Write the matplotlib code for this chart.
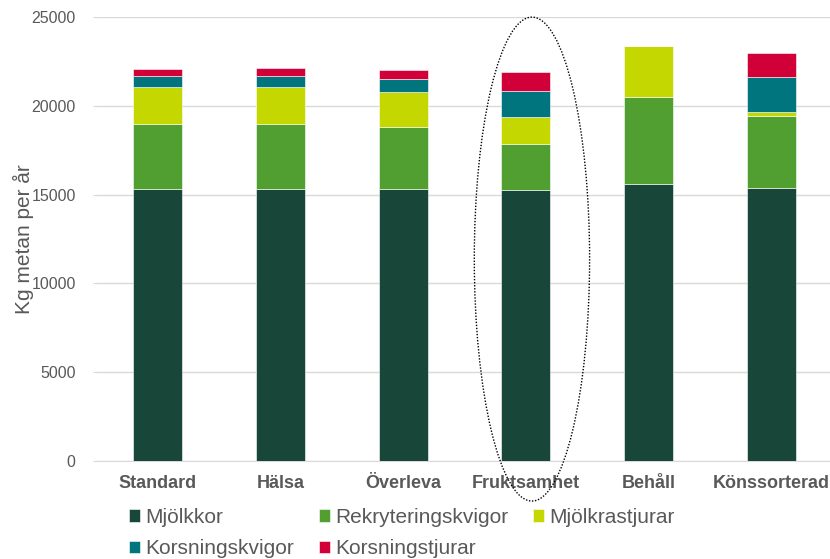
import numpy as np
import matplotlib
matplotlib.use("Agg")
import matplotlib.pyplot as plt
from matplotlib.patches import Ellipse

# Metan per scenario, uppdelat per djurkategori (kg per år)
SCENARIOS = ["Standard", "Hälsa", "Överleva", "Fruktsamhet", "Behåll", "Könssorterad"]
MJOLKKOR = [15315, 15333, 15333, 15276, 15614, 15354]
REKRYTERINGSKVIGOR = [3677, 3659, 3456, 2590, 4899, 4055]
MJOLKRASTJURAR = [2083, 2083, 1971, 1486, 2854, 259]
KORSNINGSKVIGOR = [620, 620, 732, 1481, 0, 1937]
KORSNINGSTJURAR = [395, 415, 523, 1053, 0, 1368]

SERIES = [
    ("Mjölkkor", MJOLKKOR, "#18473A"),
    ("Rekryteringskvigor", REKRYTERINGSKVIGOR, "#519E31"),
    ("Mjölkrastjurar", MJOLKRASTJURAR, "#C5D700"),
    ("Korsningskvigor", KORSNINGSKVIGOR, "#00757E"),
    ("Korsningstjurar", KORSNINGSTJURAR, "#D10038"),
]

HIGHLIGHT = "Fruktsamhet"

TEXT_GREY = "#595959"
GRID_GREY = "#D9D9D9"

plt.rcParams["font.family"] = ["Liberation Sans", "DejaVu Sans"]

fig = plt.figure(figsize=(8.3, 5.59), dpi=100)
ax = fig.add_axes([0.1163, 0.1753, 0.8837, 0.7943])

x = np.arange(len(SCENARIOS))
bottom = np.zeros(len(SCENARIOS))
handles = []
for name, values, color in SERIES:
    vals = np.array(values, dtype=float)
    bars = ax.bar(x, vals, width=0.4, bottom=bottom, color=color,
                  edgecolor="white", linewidth=0.4, label=name, zorder=3)
    handles.append(bars)
    bottom += vals

ax.set_xlim(-0.5, 5.48)
ax.set_ylim(0, 25000)
ax.set_yticks(np.arange(0, 25001, 5000))
ax.set_xticks(x)
ax.set_xticklabels(SCENARIOS, fontsize=13, fontweight="bold", color=TEXT_GREY)
ax.tick_params(axis="x", length=0, pad=10)
ax.tick_params(axis="y", length=3, color=GRID_GREY, labelcolor=TEXT_GREY,
               labelsize=11.5, pad=12)
ax.grid(True, axis="y", color=GRID_GREY, linewidth=1, zorder=0)
for side in ["top", "right", "left"]:
    ax.spines[side].set_visible(False)
ax.spines["bottom"].set_color(GRID_GREY)
ax.set_ylabel("Kg metan per år", fontsize=15, color=TEXT_GREY, labelpad=-2)

# Markering runt fruktsamhetsscenariot
hi = SCENARIOS.index(HIGHLIGHT)
ell = Ellipse((hi + 0.05, 11370), width=0.94, height=27250, fill=False,
              edgecolor="black", linewidth=1.0, linestyle=(0, (1, 1.2)),
              clip_on=False, zorder=5)
ax.add_patch(ell)

# Legenden fylls kolumnvis, så ordna om för att få radvis läsning
order = [0, 3, 1, 4, 2]
fig.legend(handles=[handles[i] for i in order],
           labels=[SERIES[i][0] for i in order], ncol=3,
           loc="upper left", bbox_to_anchor=(129 / 830, 1 - 508 / 559),
           frameon=False, fontsize=15, labelcolor=TEXT_GREY,
           handlelength=0.53, handleheight=0.53, handletextpad=0.25,
           columnspacing=1.2, labelspacing=0.6, borderpad=0, borderaxespad=0)

fig.savefig("out.png", dpi=100, facecolor="white")
